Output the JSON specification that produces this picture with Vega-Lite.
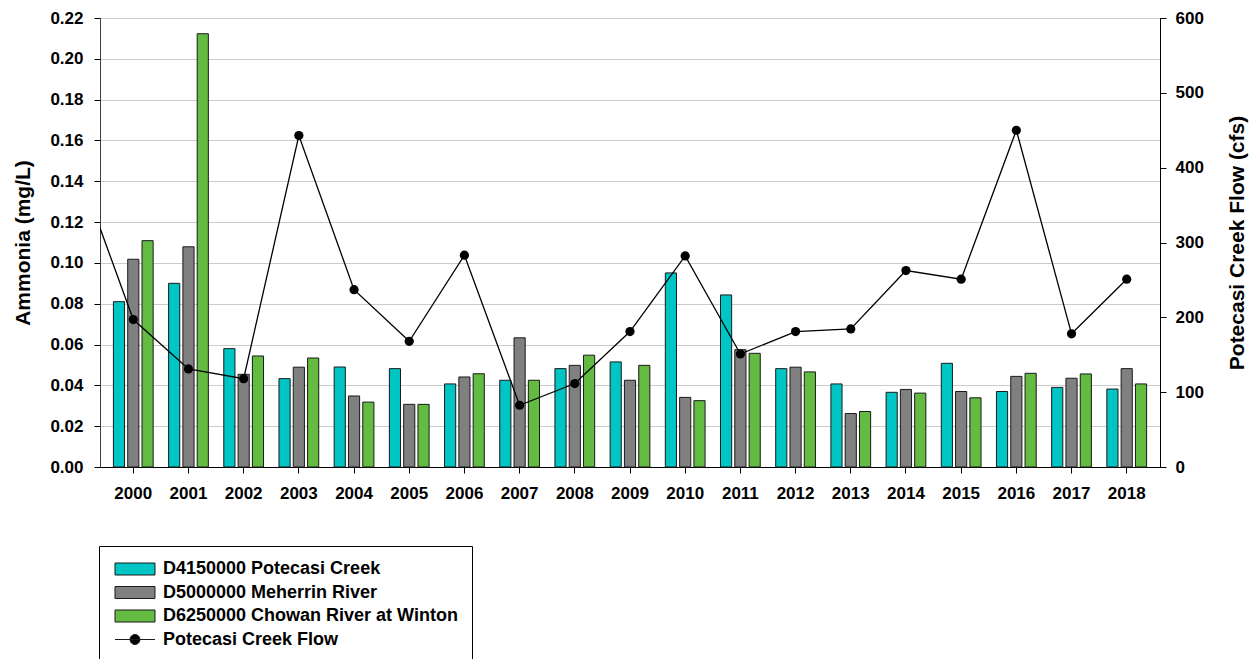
{
  "$schema": "https://vega.github.io/schema/vega-lite/v6.json",
  "width": 1060,
  "height": 449,
  "autosize": {"type": "none"},
  "padding": {"left": 100, "top": 18, "right": 95, "bottom": 192},
  "background": "white",
  "config": {
    "font": "Liberation Sans",
    "view": {"stroke": "#000", "strokeWidth": 1},
    "axis": {
      "labelFont": "Liberation Sans", "labelFontSize": 17, "labelFontWeight": "bold", "labelColor": "#000",
      "titleFont": "Liberation Sans", "titleFontSize": 21, "titleFontWeight": "bold", "titleColor": "#000",
      "tickColor": "#000", "domainColor": "#000", "tickSize": 6, "tickWidth": 1, "domainWidth": 1
    }
  },
  "layer": [
    {
      "data": {"values": [
        {"year": "2000", "series": "D4150000 Potecasi Creek", "ammonia": 0.081},
        {"year": "2000", "series": "D5000000 Meherrin River", "ammonia": 0.1018},
        {"year": "2000", "series": "D6250000 Chowan River at Winton", "ammonia": 0.1109},
        {"year": "2001", "series": "D4150000 Potecasi Creek", "ammonia": 0.090},
        {"year": "2001", "series": "D5000000 Meherrin River", "ammonia": 0.1079},
        {"year": "2001", "series": "D6250000 Chowan River at Winton", "ammonia": 0.2123},
        {"year": "2002", "series": "D4150000 Potecasi Creek", "ammonia": 0.058},
        {"year": "2002", "series": "D5000000 Meherrin River", "ammonia": 0.0454},
        {"year": "2002", "series": "D6250000 Chowan River at Winton", "ammonia": 0.0544},
        {"year": "2003", "series": "D4150000 Potecasi Creek", "ammonia": 0.0433},
        {"year": "2003", "series": "D5000000 Meherrin River", "ammonia": 0.0489},
        {"year": "2003", "series": "D6250000 Chowan River at Winton", "ammonia": 0.0534},
        {"year": "2004", "series": "D4150000 Potecasi Creek", "ammonia": 0.049},
        {"year": "2004", "series": "D5000000 Meherrin River", "ammonia": 0.0348},
        {"year": "2004", "series": "D6250000 Chowan River at Winton", "ammonia": 0.0318},
        {"year": "2005", "series": "D4150000 Potecasi Creek", "ammonia": 0.0482},
        {"year": "2005", "series": "D5000000 Meherrin River", "ammonia": 0.0307},
        {"year": "2005", "series": "D6250000 Chowan River at Winton", "ammonia": 0.0307},
        {"year": "2006", "series": "D4150000 Potecasi Creek", "ammonia": 0.0407},
        {"year": "2006", "series": "D5000000 Meherrin River", "ammonia": 0.0441},
        {"year": "2006", "series": "D6250000 Chowan River at Winton", "ammonia": 0.0457},
        {"year": "2007", "series": "D4150000 Potecasi Creek", "ammonia": 0.0425},
        {"year": "2007", "series": "D5000000 Meherrin River", "ammonia": 0.0633},
        {"year": "2007", "series": "D6250000 Chowan River at Winton", "ammonia": 0.0425},
        {"year": "2008", "series": "D4150000 Potecasi Creek", "ammonia": 0.0482},
        {"year": "2008", "series": "D5000000 Meherrin River", "ammonia": 0.0498},
        {"year": "2008", "series": "D6250000 Chowan River at Winton", "ammonia": 0.0548},
        {"year": "2009", "series": "D4150000 Potecasi Creek", "ammonia": 0.0515},
        {"year": "2009", "series": "D5000000 Meherrin River", "ammonia": 0.0425},
        {"year": "2009", "series": "D6250000 Chowan River at Winton", "ammonia": 0.0498},
        {"year": "2010", "series": "D4150000 Potecasi Creek", "ammonia": 0.0951},
        {"year": "2010", "series": "D5000000 Meherrin River", "ammonia": 0.0341},
        {"year": "2010", "series": "D6250000 Chowan River at Winton", "ammonia": 0.0325},
        {"year": "2011", "series": "D4150000 Potecasi Creek", "ammonia": 0.0843},
        {"year": "2011", "series": "D5000000 Meherrin River", "ammonia": 0.0575},
        {"year": "2011", "series": "D6250000 Chowan River at Winton", "ammonia": 0.0557},
        {"year": "2012", "series": "D4150000 Potecasi Creek", "ammonia": 0.0482},
        {"year": "2012", "series": "D5000000 Meherrin River", "ammonia": 0.0489},
        {"year": "2012", "series": "D6250000 Chowan River at Winton", "ammonia": 0.0466},
        {"year": "2013", "series": "D4150000 Potecasi Creek", "ammonia": 0.0407},
        {"year": "2013", "series": "D5000000 Meherrin River", "ammonia": 0.0262},
        {"year": "2013", "series": "D6250000 Chowan River at Winton", "ammonia": 0.0272},
        {"year": "2014", "series": "D4150000 Potecasi Creek", "ammonia": 0.0366},
        {"year": "2014", "series": "D5000000 Meherrin River", "ammonia": 0.038},
        {"year": "2014", "series": "D6250000 Chowan River at Winton", "ammonia": 0.0362},
        {"year": "2015", "series": "D4150000 Potecasi Creek", "ammonia": 0.0508},
        {"year": "2015", "series": "D5000000 Meherrin River", "ammonia": 0.037},
        {"year": "2015", "series": "D6250000 Chowan River at Winton", "ammonia": 0.0339},
        {"year": "2016", "series": "D4150000 Potecasi Creek", "ammonia": 0.037},
        {"year": "2016", "series": "D5000000 Meherrin River", "ammonia": 0.0444},
        {"year": "2016", "series": "D6250000 Chowan River at Winton", "ammonia": 0.0459},
        {"year": "2017", "series": "D4150000 Potecasi Creek", "ammonia": 0.039},
        {"year": "2017", "series": "D5000000 Meherrin River", "ammonia": 0.0435},
        {"year": "2017", "series": "D6250000 Chowan River at Winton", "ammonia": 0.0456},
        {"year": "2018", "series": "D4150000 Potecasi Creek", "ammonia": 0.0382},
        {"year": "2018", "series": "D5000000 Meherrin River", "ammonia": 0.0482},
        {"year": "2018", "series": "D6250000 Chowan River at Winton", "ammonia": 0.0407}
      ]},
      "mark": {"type": "bar", "stroke": "#1a1a1a", "strokeWidth": 1},
      "encoding": {
        "x": {
          "field": "year", "type": "ordinal",
          "scale": {"paddingInner": 0.228, "paddingOuter": 0.217},
          "axis": {"title": null, "labelAngle": 0, "labelPadding": 25.5, "labelBaseline": "alphabetic", "grid": false, "labelOverlap": false}
        },
        "xOffset": {
          "field": "series", "type": "nominal",
          "scale": {"domain": ["D4150000 Potecasi Creek", "D5000000 Meherrin River", "D6250000 Chowan River at Winton"], "paddingInner": 0.22, "paddingOuter": 0.1}
        },
        "y": {
          "field": "ammonia", "type": "quantitative",
          "scale": {"domain": [0, 0.22], "nice": false},
          "axis": {
            "title": "Ammonia (mg/L)", "values": [0, 0.02, 0.04, 0.06, 0.08, 0.1, 0.12, 0.14, 0.16, 0.18, 0.2, 0.22],
            "format": ".2f", "grid": true, "gridColor": "#cccccc", "gridWidth": 1, "labelPadding": 11,
            "titleX": -71, "titleY": 224.5, "titleAngle": 270, "titleBaseline": "alphabetic", "titleAlign": "center",
            "domainColor": "#404040"
          }
        },
        "color": {
          "field": "series", "type": "nominal",
          "scale": {
            "domain": ["D4150000 Potecasi Creek", "D5000000 Meherrin River", "D6250000 Chowan River at Winton", "Potecasi Creek Flow"],
            "range": ["#00c5c5", "#808080", "#63bb42", "#000000"]
          },
          "legend": {
            "orient": "none", "legendX": -1, "legendY": 528, "title": null, "direction": "vertical",
            "strokeColor": "#000", "fillColor": "#fff", "padding": 14,
            "symbolSize": 144, "symbolStrokeColor": "#1a1a1a", "symbolStrokeWidth": 1, "symbolOpacity": 1,
            "symbolOffset": 13,
            "labelFont": "Liberation Sans", "labelFontSize": 18, "labelFontWeight": "bold", "labelColor": "#000",
            "labelOffset": 19, "rowPadding": 5.5, "labelLimit": 400,
            "encode": {
              "symbols": {
                "update": {
                  "shape": {"signal": "datum.value === 'Potecasi Creek Flow' ? 'M-3.333,0H3.333M0.833,0A0.833,0.833,0,1,1,-0.833,0A0.833,0.833,0,1,1,0.833,0Z' : 'M-3.333,-1H3.333V1H-3.333Z'"}
                }
              }
            }
          }
        }
      }
    },
    {
      "data": {"values": [
        {"yr": 1999, "flow": 400},
        {"yr": 2000, "flow": 197},
        {"yr": 2001, "flow": 131},
        {"yr": 2002, "flow": 118},
        {"yr": 2003, "flow": 443},
        {"yr": 2004, "flow": 237},
        {"yr": 2005, "flow": 168},
        {"yr": 2006, "flow": 283},
        {"yr": 2007, "flow": 82.5},
        {"yr": 2008, "flow": 111.5},
        {"yr": 2009, "flow": 181},
        {"yr": 2010, "flow": 282},
        {"yr": 2011, "flow": 151},
        {"yr": 2012, "flow": 181},
        {"yr": 2013, "flow": 184.5},
        {"yr": 2014, "flow": 262.5},
        {"yr": 2015, "flow": 251},
        {"yr": 2016, "flow": 450},
        {"yr": 2017, "flow": 178},
        {"yr": 2018, "flow": 251}
      ]},
      "encoding": {
        "x": {"field": "yr", "type": "quantitative", "scale": {"domain": [1999.397, 2018.603], "nice": false, "zero": false}, "axis": null},
        "y": {
          "field": "flow", "type": "quantitative",
          "scale": {"domain": [0, 600], "nice": false},
          "axis": {
            "orient": "right", "title": "Potecasi Creek Flow (cfs)", "values": [0, 100, 200, 300, 400, 500, 600],
            "format": "d", "grid": false, "labelPadding": 9,
            "titleAngle": 270, "titleX": 83, "titleY": 224.5, "titleBaseline": "alphabetic", "titleAlign": "center"
          }
        }
      },
      "layer": [
        {"mark": {"type": "line", "color": "#000", "strokeWidth": 1.3, "clip": true}},
        {"mark": {"type": "point", "filled": true, "color": "#000", "size": 85, "opacity": 1, "clip": true}}
      ]
    }
  ],
  "resolve": {"scale": {"x": "independent", "y": "independent"}}
}
